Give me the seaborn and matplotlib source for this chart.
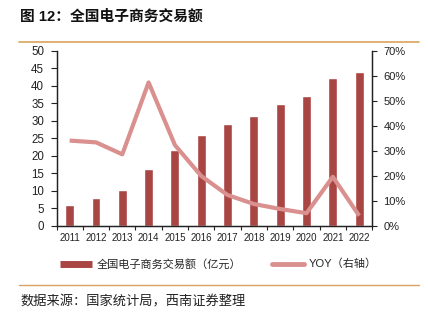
import matplotlib
matplotlib.use("Agg")
import matplotlib.pyplot as plt
import seaborn as sns
import pandas as pd
from matplotlib.lines import Line2D
from matplotlib.ticker import FuncFormatter, MultipleLocator, FixedLocator

years = ["2011", "2012", "2013", "2014", "2015", "2016", "2017", "2018", "2019", "2020", "2021", "2022"]
amount = [5.8, 8.0, 10.3, 16.3, 21.8, 26.0, 29.0, 31.4, 34.7, 37.1, 42.2, 44.0]
yoy = [34.1, 33.4, 28.6, 57.4, 32.3, 19.9, 12.3, 8.7, 6.7, 5.0, 19.6, 4.0]
title = "图 12：全国电子商务交易额"
source = "数据来源：国家统计局，西南证券整理"
bar_label = "全国电子商务交易额（亿元）"
line_label = "YOY（右轴）"

sns.set_style("white")
plt.rcParams["font.family"] = ["Liberation Sans", "Noto Sans CJK SC", "DejaVu Sans"]

bar_color = "#A94644"
line_color = "#D9908E"
rule_color = "#D9A35F"

df = pd.DataFrame({"year": years, "amount": amount, "yoy": yoy})

fig = plt.figure(figsize=(4.28, 3.22), dpi=100)
W, H = 428, 322
ax = fig.add_axes([56.5 / W, 1 - 225.7 / H, (372.3 - 56.5) / W, (225.7 - 51) / H])
sns.barplot(data=df, x="year", y="amount", color=bar_color, width=0.34,
            saturation=1, ax=ax)
ax2 = ax.twinx()
sns.pointplot(data=df, x="year", y="yoy", color=line_color, markers="",
              linestyles="-", ax=ax2)
for l in ax2.lines:
    l.set_linewidth(3.0)
    l.set_solid_capstyle("butt")

ax.set_xlim(-0.5, 11.5)
ax.set_ylim(0, 50)
ax2.set_ylim(0, 70)
ax.yaxis.set_major_locator(MultipleLocator(5))
ax2.yaxis.set_major_locator(MultipleLocator(10))
ax2.yaxis.set_major_formatter(FuncFormatter(lambda v, p: f"{v:.0f}%"))
ax.set_xlabel("")
ax.set_ylabel("")
ax2.set_xlabel("")
ax2.set_ylabel("")

for a in (ax, ax2):
    a.spines["top"].set_visible(False)
    for s in ("left", "right", "bottom"):
        a.spines[s].set_color("#222222")
        a.spines[s].set_linewidth(0.9)
    a.grid(False)

ax.tick_params(axis="y", which="major", direction="out", length=4, width=0.8,
               labelsize=8.3, colors="#222222", pad=5, left=True)
ax2.tick_params(axis="y", which="major", direction="out", length=3.5, width=0.8,
                labelsize=8, colors="#222222", pad=4.5, right=True)
ax.tick_params(axis="x", which="major", length=0, labelsize=7, pad=5,
               colors="#222222")
ax.xaxis.set_minor_locator(FixedLocator([i + 0.5 for i in range(-1, 12)]))
ax.tick_params(axis="x", which="minor", direction="out", length=3, width=0.8,
               color="#222222", bottom=True)
ax2.tick_params(axis="x", which="both", bottom=False, top=False, labelbottom=False)

fig.text(20 / W, 1 - 17 / H, title, fontsize=10.6, fontweight="bold",
         va="center", ha="left", color="#111111")
fig.add_artist(Line2D([19 / W, 419 / W], [1 - 42 / H, 1 - 42 / H],
                      color=rule_color, lw=1.2, transform=fig.transFigure))
fig.add_artist(Line2D([19 / W, 419 / W], [1 - 285 / H, 1 - 285 / H],
                      color=rule_color, lw=1.0, transform=fig.transFigure))
fig.text(20 / W, 1 - 302 / H, source, fontsize=9.5, style="italic",
         va="center", ha="left", color="#222222")

handles = [Line2D([0], [0], color=bar_color, lw=5, solid_capstyle="butt"),
           Line2D([0], [0], color=line_color, lw=3.5, solid_capstyle="round")]
fig.legend(handles, [bar_label, line_label], loc="center",
           bbox_to_anchor=(0.51, 1 - 264 / H), ncol=2, frameon=False,
           fontsize=8, handlelength=2.9, columnspacing=2.8,
           handletextpad=0.4)

fig.savefig("out.png", dpi=100)
